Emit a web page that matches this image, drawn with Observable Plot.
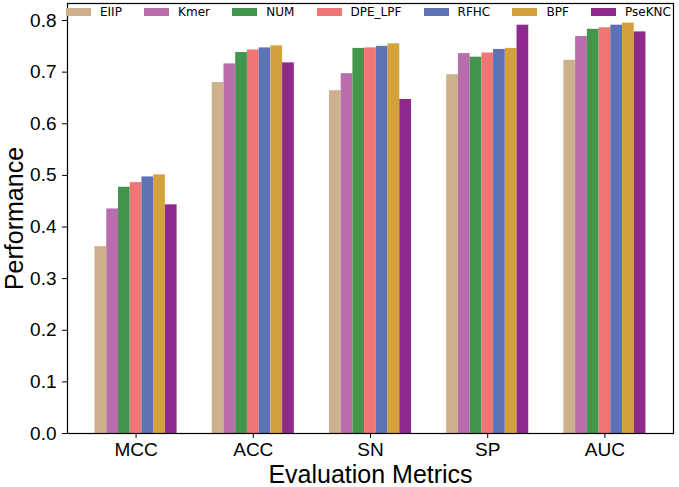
<!DOCTYPE html>
<html>
<head>
<meta charset="utf-8">
<script src="https://cdn.jsdelivr.net/npm/d3@7"></script>
<script src="https://cdn.jsdelivr.net/npm/@observablehq/plot@0.6"></script>
<style>
  html, body { margin: 0; padding: 0; background: #fff; }
  #wrap { position: relative; width: 679px; height: 487px; }
  #legend {
    position: absolute; left: 66px; top: 5px; width: 605px;
    display: flex; justify-content: space-between; align-items: center;
    font-family: "DejaVu Sans", sans-serif; font-size: 12px; font-weight: normal; color: #000;
  }
  #legend .item { display: flex; align-items: center; }
  #legend .sw { width: 25px; height: 8px; margin-right: 9px; }
</style>
</head>
<body>
<div id="wrap"><div id="legend"></div></div>
<script>
const metrics = ["MCC", "ACC", "SN", "SP", "AUC"];
const methods = ["EIIP", "Kmer", "NUM", "DPE_LPF", "RFHC", "BPF", "PseKNC"];
const colors = ["#CDB08C", "#B96DAD", "#42954A", "#EE7674", "#5C72B5", "#D4A23C", "#8E2A8E"];
// values per method, in metric order MCC, ACC, SN, SP, AUC
const EIIP    = [0.362, 0.680, 0.664, 0.695, 0.723];
const Kmer    = [0.435, 0.716, 0.697, 0.736, 0.769];
const NUM     = [0.477, 0.738, 0.746, 0.729, 0.783];
const DPE_LPF = [0.486, 0.743, 0.747, 0.737, 0.786];
const RFHC    = [0.497, 0.747, 0.750, 0.744, 0.791];
const BPF     = [0.501, 0.751, 0.755, 0.746, 0.795];
const PseKNC  = [0.443, 0.718, 0.647, 0.791, 0.778];
const yTicks = [0, 0.1, 0.2, 0.3, 0.4, 0.5, 0.6, 0.7, 0.8];

const series = [EIIP, Kmer, NUM, DPE_LPF, RFHC, BPF, PseKNC];
const rows = [];
series.forEach((vals, si) => vals.forEach((v, mi) => rows.push({mi, si, method: methods[si], value: v})));
const barW = 0.1;

const chart = Plot.plot({
  width: 679,
  height: 487,
  marginLeft: 67,
  marginRight: 6,
  marginTop: 3,
  marginBottom: 54,
  style: {fontFamily: "'Liberation Sans', Arial, sans-serif", fontSize: "19px", color: "#000", background: "#fff"},
  x: {domain: [-0.585, 4.585]},
  y: {domain: [0, 0.833]},
  color: {domain: methods, range: colors},
  marks: [
    Plot.rect(rows, {
      x1: d => d.mi + (d.si - 3.5) * barW,
      x2: d => d.mi + (d.si - 2.5) * barW,
      y1: 0,
      y2: "value",
      fill: "method"
    }),
    Plot.frame({stroke: "#000", strokeWidth: 1.2}),
    Plot.axisY({ticks: yTicks, tickFormat: d3.format(".1f"), tickSize: 5, tickPadding: 6, fontSize: 19, label: null}),
    Plot.axisX({ticks: [0, 1, 2, 3, 4], tickFormat: i => metrics[i], tickSize: 5, tickPadding: 4, fontSize: 19, label: null}),
    Plot.text(["Evaluation Metrics"], {frameAnchor: "bottom", dy: 41.5, fontSize: 25, textAnchor: "middle", lineAnchor: "middle"}),
    Plot.text(["Performance"], {frameAnchor: "left", dx: -53, rotate: -90, fontSize: 25, textAnchor: "middle", lineAnchor: "middle"})
  ]
});
document.getElementById("wrap").prepend(chart);

const legend = document.getElementById("legend");
methods.forEach((m, i) => {
  const it = document.createElement("div");
  it.className = "item";
  const sw = document.createElement("div");
  sw.className = "sw";
  sw.style.background = colors[i];
  const t = document.createElement("span");
  t.textContent = m;
  it.appendChild(sw); it.appendChild(t);
  legend.appendChild(it);
});
</script>
</body>
</html>
